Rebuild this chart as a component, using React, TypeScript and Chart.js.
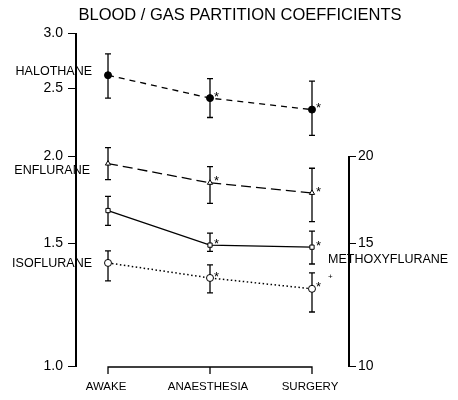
import React, { useEffect, useRef } from 'react';
import { Chart, registerables } from 'chart.js';

Chart.register(...registerables);

// ---- data ----
const categories = ['AWAKE', 'ANAESTHESIA', 'SURGERY'];
const leftTicks = [1.0, 1.5, 2.0, 2.5, 3.0];
const rightTicks = [10, 15, 20];

const halothane = [2.61, 2.42, 2.33];
const halothaneLo = [2.42, 2.27, 2.14];
const halothaneHi = [2.80, 2.58, 2.56];

const enflurane = [1.95, 1.83, 1.77];
const enfluraneLo = [1.85, 1.71, 1.61];
const enfluraneHi = [2.055, 1.93, 1.92];

const methoxyflurane = [16.7, 14.9, 14.8];
const methoxyfluraneLo = [15.9, 14.6, 14.0];
const methoxyfluraneHi = [17.5, 15.5, 15.6];

const isoflurane = [1.405, 1.337, 1.29];
const isofluraneLo = [1.324, 1.273, 1.195];
const isofluraneHi = [1.462, 1.396, 1.36];

const starred = [false, true, true];

const FONT = 'Arial, sans-serif';
const INK = '#000000';

const pts = (arr: number[]) => arr.map((v, i) => ({ x: i, y: v }));

const drawAxes = (chart: any) => {
  const ctx = chart.ctx;
  const xs = chart.scales.x;
  const y1 = chart.scales.y;
  const y2 = chart.scales.y2;
  ctx.save();
  ctx.fillStyle = '#000';
  const lx = Math.round(xs.getPixelForValue(xs.min)) - 2;
  const lt = Math.round(y1.getPixelForValue(leftTicks[leftTicks.length - 1]));
  const lb = Math.round(y1.getPixelForValue(leftTicks[0]));
  ctx.fillRect(lx, lt, 2, lb - lt + 1);
  leftTicks.forEach((v) => {
    const ty = Math.round(y1.getPixelForValue(v));
    ctx.fillRect(lx - 7, ty, 8, 1);
  });
  const rx = Math.round(xs.getPixelForValue(xs.max));
  const rt = Math.round(y2.getPixelForValue(rightTicks[rightTicks.length - 1]));
  const rb = Math.round(y2.getPixelForValue(rightTicks[0]));
  ctx.fillRect(rx, rt, 2, rb - rt + 1);
  rightTicks.forEach((v) => {
    const ty = Math.round(y2.getPixelForValue(v));
    ctx.fillRect(rx, ty, 8, 1);
  });
  ctx.restore();
};

const decorPlugin = {
  id: 'decor',
  beforeDraw(chart: any) {
    const ctx = chart.ctx;
    ctx.save();
    ctx.fillStyle = '#ffffff';
    ctx.fillRect(0, 0, chart.width, chart.height);
    ctx.restore();
  },
  beforeDatasetsDraw(chart: any) {
    const ctx = chart.ctx;
    const xs = chart.scales.x;
    ctx.save();
    ctx.strokeStyle = INK;
    ctx.lineWidth = 1.3;
    chart.data.datasets.forEach((ds: any) => {
      const ys = chart.scales[ds.yAxisID];
      ds.data.forEach((p: any, i: number) => {
        const px = xs.getPixelForValue(p.x);
        const yl = ys.getPixelForValue(ds.errLo[i]);
        const yh = ys.getPixelForValue(ds.errHi[i]);
        ctx.beginPath();
        ctx.moveTo(px, yl);
        ctx.lineTo(px, yh);
        ctx.moveTo(px - 3, yl);
        ctx.lineTo(px + 3, yl);
        ctx.moveTo(px - 3, yh);
        ctx.lineTo(px + 3, yh);
        ctx.stroke();
      });
    });
    ctx.restore();
  },
  afterDraw(chart: any) {
    const ctx = chart.ctx;
    const xs = chart.scales.x;
    const y1 = chart.scales.y;
    const y2 = chart.scales.y2;
    const ca = chart.chartArea;

    drawAxes(chart);

    ctx.save();
    ctx.fillStyle = INK;
    ctx.strokeStyle = INK;
    ctx.lineWidth = 1.3;

    // x bracket
    const bx0 = xs.getPixelForValue(0);
    const bx1 = xs.getPixelForValue(categories.length - 1);
    const by = ca.bottom + 1;
    ctx.beginPath();
    ctx.moveTo(bx0, by + 7);
    ctx.lineTo(bx0, by);
    ctx.lineTo(bx1, by);
    ctx.lineTo(bx1, by + 7);
    for (let i = 1; i < categories.length - 1; i++) {
      const cx = xs.getPixelForValue(i);
      ctx.moveTo(cx, by);
      ctx.lineTo(cx, by + 7);
    }
    ctx.stroke();

    ctx.textBaseline = 'middle';

    // category labels
    ctx.font = `11.5px ${FONT}`;
    ctx.textAlign = 'center';
    categories.forEach((c, i) => {
      ctx.fillText(c, xs.getPixelForValue(i) - 2, 387);
    });

    // tick labels (left / right)
    ctx.font = `14px ${FONT}`;
    ctx.textAlign = 'right';
    leftTicks.forEach((v) => {
      ctx.fillText(v.toFixed(1), ca.left - 14, y1.getPixelForValue(v));
    });
    ctx.textAlign = 'left';
    rightTicks.forEach((v) => {
      ctx.fillText(String(v), ca.right + 10, y2.getPixelForValue(v));
    });

    // title
    ctx.font = `16.5px ${FONT}`;
    ctx.textAlign = 'center';
    ctx.fillText('BLOOD / GAS PARTITION COEFFICIENTS', 240, 15);

    // series labels
    ctx.font = `12.5px ${FONT}`;
    ctx.textAlign = 'right';
    ctx.fillText('HALOTHANE', 92, 72);
    ctx.fillText('ENFLURANE', 90, 171);
    ctx.fillText('ISOFLURANE', 92, 264);
    ctx.textAlign = 'left';
    ctx.fillText('METHOXYFLURANE', 328, 260);

    // asterisks
    ctx.font = `13px ${FONT}`;
    ctx.textAlign = 'left';
    chart.data.datasets.forEach((ds: any) => {
      const ys = chart.scales[ds.yAxisID];
      ds.data.forEach((p: any, i: number) => {
        if (!starred[i]) return;
        const px = xs.getPixelForValue(p.x);
        const py = ys.getPixelForValue(p.y);
        ctx.fillText('*', px + 4, py - 1);
      });
    });
    // dagger mark next to isoflurane at surgery
    ctx.font = `8px ${FONT}`;
    const ix = xs.getPixelForValue(2);
    const iy = y1.getPixelForValue(isoflurane[2]);
    ctx.fillText('+', ix + 16, iy - 12);
    ctx.restore();

    drawAxes(chart);
  },
};

export default function App() {
  const ref = useRef<HTMLCanvasElement>(null);
  useEffect(() => {
    const chart = new Chart(ref.current as HTMLCanvasElement, {
      type: 'line',
      data: {
        datasets: [
          {
            label: 'HALOTHANE',
            data: pts(halothane),
            errLo: halothaneLo,
            errHi: halothaneHi,
            yAxisID: 'y',
            borderColor: INK,
            borderWidth: 1.3,
            borderDash: [6, 5],
            pointStyle: 'circle',
            pointRadius: 3.5,
            pointBackgroundColor: INK,
            pointBorderColor: INK,
            pointBorderWidth: 1,
            tension: 0,
          } as any,
          {
            label: 'ENFLURANE',
            data: pts(enflurane),
            errLo: enfluraneLo,
            errHi: enfluraneHi,
            yAxisID: 'y',
            borderColor: INK,
            borderWidth: 1.3,
            borderDash: [10, 5],
            pointStyle: 'triangle',
            pointRadius: 3,
            pointBackgroundColor: '#ffffff',
            pointBorderColor: INK,
            pointBorderWidth: 1,
            tension: 0,
          } as any,
          {
            label: 'METHOXYFLURANE',
            data: pts(methoxyflurane),
            errLo: methoxyfluraneLo,
            errHi: methoxyfluraneHi,
            yAxisID: 'y2',
            borderColor: INK,
            borderWidth: 1.3,
            pointStyle: 'rect',
            pointRadius: 3,
            pointBackgroundColor: '#ffffff',
            pointBorderColor: INK,
            pointBorderWidth: 1,
            tension: 0,
          } as any,
          {
            label: 'ISOFLURANE',
            data: pts(isoflurane),
            errLo: isofluraneLo,
            errHi: isofluraneHi,
            yAxisID: 'y',
            borderColor: INK,
            borderWidth: 1.5,
            borderDash: [1.5, 2.5],
            pointStyle: 'circle',
            pointRadius: 3.5,
            pointBackgroundColor: '#ffffff',
            pointBorderColor: INK,
            pointBorderWidth: 1,
            tension: 0,
          } as any,
        ],
      },
      options: {
        animation: false,
        responsive: true,
        maintainAspectRatio: false,
        layout: { padding: { top: 33, bottom: 34, left: 0, right: 0 } },
        plugins: {
          legend: { display: false },
          title: { display: false },
          tooltip: { enabled: false },
        },
        scales: {
          x: {
            type: 'linear',
            display: false,
            min: -0.304,
            max: 2.353,
          },
          y: {
            type: 'logarithmic',
            position: 'left',
            min: 1,
            max: 3,
            afterBuildTicks: (s: any) => {
              s.ticks = leftTicks.map((v) => ({ value: v }));
            },
            afterFit: (s: any) => {
              s.width = 77;
            },
            ticks: { display: false },
            grid: { display: false, drawTicks: false },
            border: { display: false },
          },
          y2: {
            type: 'logarithmic',
            position: 'right',
            min: 10,
            max: 30,
            afterBuildTicks: (s: any) => {
              s.ticks = rightTicks.map((v) => ({ value: v }));
            },
            afterFit: (s: any) => {
              s.width = 110;
            },
            ticks: { display: false },
            grid: { display: false, drawTicks: false },
            border: { display: false },
          },
        },
      } as any,
      plugins: [decorPlugin as any],
    });
    return () => chart.destroy();
  }, []);
  return (
    <div style={{ position: 'fixed', left: 0, top: 0, width: 458, height: 400, background: '#fff' }}>
      <canvas ref={ref} />
    </div>
  );
}
